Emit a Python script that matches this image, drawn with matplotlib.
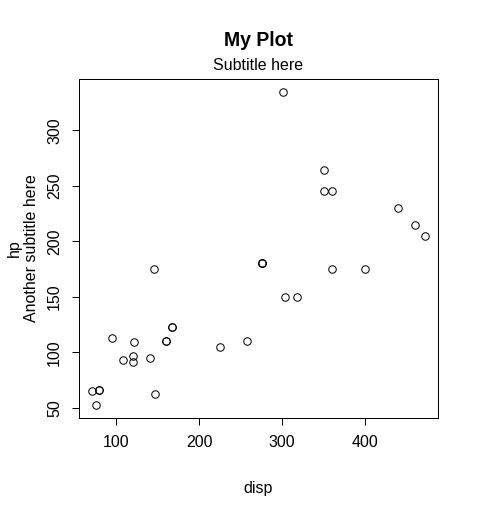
import matplotlib
matplotlib.use("Agg")
import matplotlib.pyplot as plt

# mtcars: displacement and horsepower
disp = [160, 160, 108, 258, 360, 225, 360, 146.7, 140.8, 167.6, 167.6,
        275.8, 275.8, 275.8, 472, 460, 440, 78.7, 75.7, 71.1, 120.1,
        318, 304, 350, 400, 79, 120.3, 95.1, 351, 145, 301, 121]
hp = [110, 110, 93, 110, 175, 105, 245, 62, 95, 123, 123,
      180, 180, 180, 205, 215, 230, 66, 52, 65, 97,
      150, 150, 245, 175, 66, 91, 113, 264, 175, 335, 109]

x_ticks = [100, 200, 300, 400]
y_ticks = [50, 100, 150, 200, 250, 300]

W, H = 478, 517
plt.rcParams["font.family"] = ["Liberation Sans", "DejaVu Sans"]

fig = plt.figure(figsize=(W / 72, H / 72), dpi=72)
# plot region in pixels: left 79, right 438, top 79, bottom 418
ax = fig.add_axes([79 / W, 1 - 418 / H, (438 - 79) / W, (418 - 79) / H])

ax.plot(disp, hp, linestyle="none", marker="o", markersize=7.5,
        markerfacecolor="none", markeredgecolor="black", markeredgewidth=1)

# R-style 4% range extension
def ext(v):
    lo, hi = min(v), max(v)
    d = (hi - lo) * 0.04
    return lo - d, hi + d

ax.set_xlim(*ext(disp))
ax.set_ylim(*ext(hp))

ax.set_xticks(x_ticks)
ax.set_yticks(y_ticks)
ax.set_yticklabels([str(t) for t in y_ticks], rotation=90, va="center")
ax.tick_params(length=7, width=1, labelsize=16)
ax.tick_params(axis="x", pad=10)
ax.tick_params(axis="y", pad=10)
for s in ax.spines.values():
    s.set_linewidth(1)

fig.text(258 / W, 1 - 41 / H, "My Plot", ha="center", va="center",
         fontsize=19.5, fontweight="bold")
fig.text(258 / W, 1 - 65 / H, "Subtitle here", ha="center", va="center",
         fontsize=16)
fig.text(258 / W, 1 - 488 / H, "disp", ha="center", va="center", fontsize=16)
fig.text(32 / W, 1 - 248 / H, "Another subtitle here", ha="center",
         va="center", rotation=90, fontsize=16)
fig.text(14 / W, 1 - 248 / H, "hp", ha="center", va="center",
         rotation=90, fontsize=16)

fig.savefig("out.png", dpi=72)
